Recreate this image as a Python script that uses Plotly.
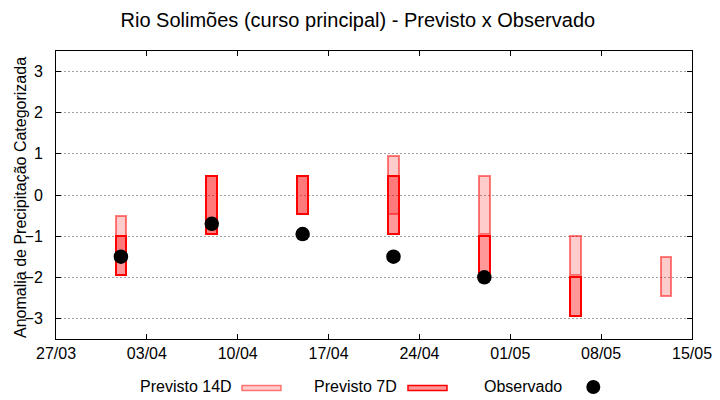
import plotly.graph_objects as go

# ---- data ----
dates = ["2024-04-01", "2024-04-08", "2024-04-15", "2024-04-22",
         "2024-04-29", "2024-05-06", "2024-05-13"]
prev14_top = [-0.5, 0.45, 0.45, 0.95, 0.45, -1.0, -1.5]
prev14_bot = [-1.5, -0.95, -0.45, -0.45, -0.95, -1.95, -2.45]
prev7_top = [-1.0, 0.45, 0.45, 0.45, -1.0, -2.0, None]
prev7_bot = [-1.95, -0.95, -0.45, -0.95, -1.95, -2.95, None]
observado = [-1.5, -0.7, -0.95, -1.5, -2.0, None, None]

xticks_start = "2024-03-27"
xticks_end = "2024-05-15"

title = "Rio Solimões (curso principal) - Previsto x Observado"
ytitle = "Anomalia de Precipitação Categorizada"
legend_names = ["Previsto 14D", "Previsto 7D", "Observado"]

DAY = 86400000
FONT = "Liberation Sans, Arial, sans-serif"

def heights(top, bot):
    return [None if t is None else t - b for t, b in zip(top, bot)]

fig = go.Figure()
fig.add_trace(go.Bar(
    x=dates, y=heights(prev14_top, prev14_bot), base=prev14_bot,
    width=[0.82 * DAY] * len(dates),
    marker=dict(color="rgba(255,0,0,0.2)",
                line=dict(color="rgba(255,0,0,0.5)", width=2)),
    name=legend_names[0], showlegend=False, hoverinfo="skip"))
fig.add_trace(go.Bar(
    x=dates, y=heights(prev7_top, prev7_bot), base=prev7_bot,
    width=[0.82 * DAY] * len(dates),
    marker=dict(color="rgba(255,0,0,0.4)",
                line=dict(color="rgb(255,0,0)", width=2)),
    name=legend_names[1], showlegend=False, hoverinfo="skip"))
fig.add_trace(go.Scatter(
    x=dates, y=observado, mode="markers",
    marker=dict(color="black", size=14.5),
    name=legend_names[2], showlegend=False, hoverinfo="skip"))

L, R, T, B = 56, 28, 51, 61
W, H = 720, 400
pw, ph = W - L - R, H - T - B

def px(x):
    return (x - L) / pw

def py(y):
    return (H - B - y) / ph

annotations = [
    dict(text=ytitle, textangle=-90, x=px(20), y=py(198), xref="paper", yref="paper",
         xanchor="center", yanchor="middle", showarrow=False,
         font=dict(family=FONT, size=16, color="black")),
]
shapes = []
# manual legend (text before symbol, as in the reference)
leg_y = 386.5
for name, xr in zip(legend_names, [233.5, 399, 563.5]):
    annotations.append(dict(text=name, x=px(xr), y=py(leg_y), xref="paper", yref="paper",
                            xanchor="right", yanchor="middle", showarrow=False,
                            font=dict(family=FONT, size=16, color="black")))
shapes.append(dict(type="rect", xref="paper", yref="paper",
                   x0=px(242), x1=px(281), y0=py(385.5), y1=py(390.5),
                   fillcolor="rgba(255,0,0,0.2)", line=dict(color="rgba(255,0,0,0.5)", width=1.5)))
shapes.append(dict(type="rect", xref="paper", yref="paper",
                   x0=px(408), x1=px(447), y0=py(385.5), y1=py(390.5),
                   fillcolor="rgba(255,0,0,0.4)", line=dict(color="rgb(255,0,0)", width=1.5)))
shapes.append(dict(type="circle", xref="paper", yref="paper",
                   x0=px(586.3), x1=px(600.3), y0=py(380), y1=py(394),
                   fillcolor="black", line=dict(color="black", width=0)))

fig.update_layout(
    width=W, height=H, autosize=False,
    margin=dict(l=L, r=R, t=T, b=B, autoexpand=False),
    paper_bgcolor="white", plot_bgcolor="white",
    barmode="overlay", bargap=0,
    font=dict(family=FONT, size=16, color="black"),
    title=dict(text=title, x=0.497, xref="container", xanchor="center",
               y=0.95, yref="container", yanchor="middle",
               font=dict(family=FONT, size=20, color="black")),
    annotations=annotations, shapes=shapes,
    xaxis=dict(type="date", range=[xticks_start, xticks_end],
               tick0=xticks_start, dtick=7 * DAY, tickformat="%d/%m",
               ticks="inside", ticklen=5, tickcolor="black", tickwidth=1,
               showline=True, linecolor="black", linewidth=1, mirror="ticks",
               showgrid=False, zeroline=False, automargin=False,
               tickfont=dict(family=FONT, size=16, color="black")),
    yaxis=dict(range=[-3.5, 3.5], tickvals=[-3, -2, -1, 0, 1, 2, 3],
               ticks="inside", ticklen=5, tickcolor="black", tickwidth=1,
               showline=True, linecolor="black", linewidth=1, mirror="ticks",
               showgrid=True, gridcolor="#a0a0a0", gridwidth=1, griddash="2px,2px",
               zeroline=False, ticklabelstandoff=9, automargin=False,
               tickfont=dict(family=FONT, size=16, color="black")),
)

fig.write_html("out.html",
               config={"displayModeBar": False, "responsive": False},
               post_script="document.body.style.margin='0';document.body.style.overflow='hidden';")
